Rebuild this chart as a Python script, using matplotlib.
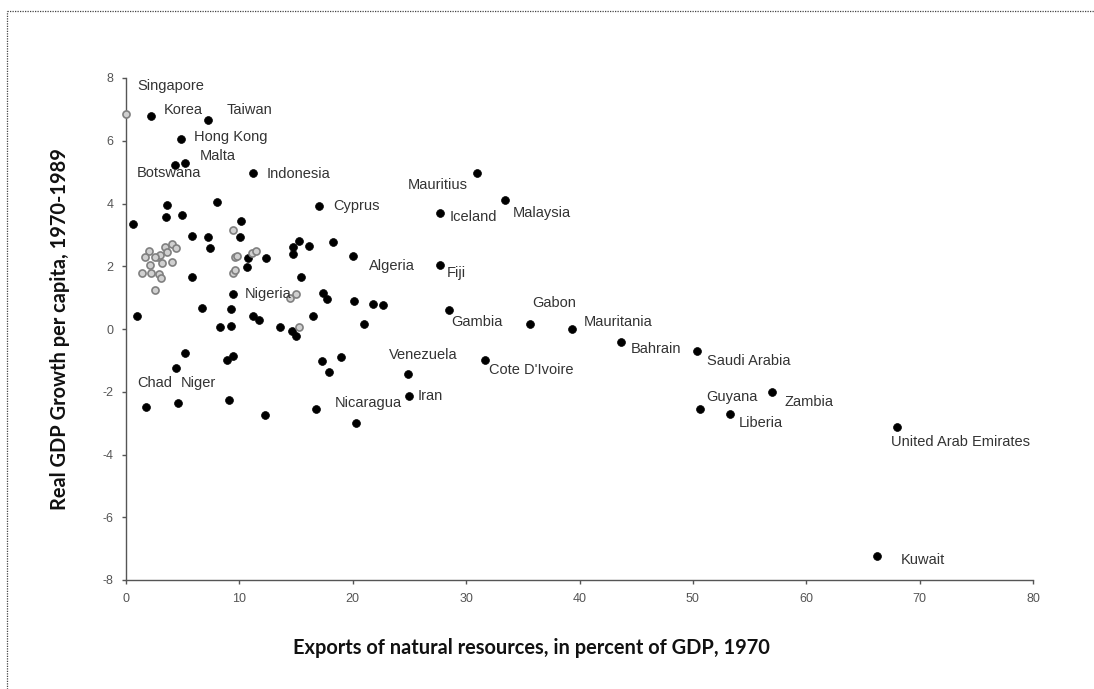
import matplotlib
matplotlib.use("Agg")
import matplotlib.pyplot as plt
from matplotlib.lines import Line2D

# ---------------- data ----------------
labeled_names = ["Singapore", "Korea", "Taiwan", "Hong Kong", "Malta", "Botswana",
                 "Indonesia", "Cyprus", "Mauritius", "Malaysia", "Iceland", "Algeria",
                 "Fiji", "Gambia", "Gabon", "Mauritania", "Bahrain", "Saudi Arabia",
                 "Venezuela", "Cote D'Ivoire", "Iran", "Nicaragua", "Guyana", "Zambia",
                 "Liberia", "United Arab Emirates", "Kuwait", "Chad", "Niger", "Nigeria"]
labeled_x = [0.0, 2.2, 7.2, 4.85, 5.2, 4.3,
             11.2, 17.0, 31.0, 33.4, 27.7, 20.0,
             27.7, 28.5, 35.6, 39.3, 43.7, 50.4,
             24.9, 31.7, 25.0, 16.8, 50.6, 57.0,
             53.3, 68.0, 66.2, 1.8, 4.6, 9.4]
labeled_y = [6.85, 6.8, 6.65, 6.07, 5.3, 5.22,
             4.97, 3.92, 4.97, 4.12, 3.7, 2.33,
             2.03, 0.59, 0.17, 0.0, -0.41, -0.7,
             -1.42, -0.98, -2.12, -2.54, -2.54, -2.0,
             -2.7, -3.12, -7.22, -2.5, -2.37, 1.1]

other_x = [0.6, 3.6, 3.5, 4.9, 8.0, 5.8, 7.2, 7.4, 10.1, 10.05, 5.8, 0.97, 6.7,
           9.3, 8.3, 9.26, 10.8, 10.7, 12.35, 11.2, 11.7, 13.6, 14.7, 14.7, 15.3,
           16.1, 15.4, 14.6, 15.0, 16.5, 18.3, 17.4, 17.7, 8.9, 9.4, 5.2, 4.4,
           9.1, 12.3, 17.3, 17.9, 19.0, 20.1, 21.8, 22.7, 21.0, 20.3]
other_y = [3.35, 3.95, 3.57, 3.62, 4.05, 2.98, 2.93, 2.57, 3.45, 2.92, 1.65, 0.4, 0.68,
           0.65, 0.05, 0.11, 2.27, 1.97, 2.27, 0.4, 0.3, 0.05, 2.62, 2.4, 2.8,
           2.64, 1.65, -0.05, -0.22, 0.4, 2.77, 1.15, 0.95, -0.98, -0.86, -0.76, -1.25,
           -2.27, -2.75, -1.02, -1.37, -0.9, 0.9, 0.8, 0.75, 0.17, -3.0]

gray_x = [2.0, 3.4, 4.06, 4.4, 3.6, 2.8, 3.0, 2.55, 1.7, 3.2, 2.1, 4.1, 1.4, 2.2,
          2.9, 3.1, 2.55, 9.4, 9.6, 9.8, 9.4, 9.6, 11.1, 11.5, 14.5, 15.0, 15.3]
gray_y = [2.5, 2.6, 2.7, 2.57, 2.44, 2.3, 2.37, 2.3, 2.28, 2.09, 2.03, 2.12, 1.77, 1.77,
          1.74, 1.61, 1.23, 3.15, 2.28, 2.32, 1.8, 1.88, 2.42, 2.48, 1.0, 1.1, 0.05]

x_ticks = [0, 10, 20, 30, 40, 50, 60, 70, 80]
y_ticks = [-8, -6, -4, -2, 0, 2, 4, 6, 8]
x_label = "Exports of natural resources, in percent of GDP, 1970"
y_label = "Real GDP Growth per capita, 1970-1989"

# label placement (pixel offsets from the point, horizontal alignment)
label_layout = {
    "Singapore": (11, 28, "left"), "Korea": (13, 6, "left"), "Taiwan": (19, 10, "left"),
    "Hong Kong": (13, 2, "left"), "Malta": (15, 7, "left"), "Botswana": (-38, -8, "left"),
    "Indonesia": (14, -1, "left"), "Cyprus": (15, 0, "left"), "Mauritius": (-10, -12, "right"),
    "Malaysia": (8, -13, "left"), "Iceland": (10, -4, "left"), "Algeria": (16, -10, "left"),
    "Fiji": (7, -8, "left"), "Gambia": (2, -12, "left"), "Gabon": (3, 21, "left"),
    "Mauritania": (12, 7, "left"), "Bahrain": (9, -7, "left"), "Saudi Arabia": (10, -10, "left"),
    "Venezuela": (-19, 19, "left"), "Cote D'Ivoire": (4, -10, "left"), "Iran": (8, 0, "left"),
    "Nicaragua": (18, 6, "left"), "Guyana": (7, 12, "left"), "Zambia": (12, -10, "left"),
    "Liberia": (8, -9, "left"), "United Arab Emirates": (-6, -15, "left"),
    "Kuwait": (24, -4, "left"), "Chad": (-9, 24, "left"), "Niger": (3, 20, "left"),
    "Nigeria": (12, 0, "left"),
}

# ---------------- figure ----------------
W, H = 1094, 689
fig = plt.figure(figsize=(W / 100, H / 100), dpi=100)
fig.patch.set_facecolor("white")

ax = fig.add_axes([126 / W, 1 - 580 / H, (1033 - 126) / W, (580 - 78) / H])
ax.set_xlim(0, 80)
ax.set_ylim(-8, 8)

label_font = ["Liberation Sans", "DejaVu Sans"]

# points
ax.scatter(other_x, other_y, s=32, c="black", edgecolors="black", linewidths=0.5,
           zorder=3, clip_on=False)
is_gray = [n == "Singapore" for n in labeled_names]
bx = [x for x, g in zip(labeled_x, is_gray) if not g]
by = [y for y, g in zip(labeled_y, is_gray) if not g]
ax.scatter(bx, by, s=32, c="black", edgecolors="black", linewidths=0.5,
           zorder=3, clip_on=False)
gx = gray_x + [x for x, g in zip(labeled_x, is_gray) if g]
gy = gray_y + [y for y, g in zip(labeled_y, is_gray) if g]
ax.scatter(gx, gy, s=26, c="#d0d0d0", edgecolors="#808080", linewidths=1.2,
           zorder=3, clip_on=False)

for name, x, y in zip(labeled_names, labeled_x, labeled_y):
    dx, dy, ha = label_layout[name]
    ax.annotate(name, (x, y), xytext=(dx, dy), textcoords="offset pixels",
                ha=ha, va="center", fontsize=10.5, color="#333333",
                family=label_font, annotation_clip=False)

# axes styling
for side in ("top", "right"):
    ax.spines[side].set_visible(False)
for side in ("left", "bottom"):
    ax.spines[side].set_color("#555555")
    ax.spines[side].set_linewidth(1.0)
ax.set_xticks(x_ticks)
ax.set_yticks(y_ticks)
ax.set_xticklabels([str(t) for t in x_ticks])
ax.set_yticklabels([str(t) for t in y_ticks])
ax.tick_params(axis="both", direction="out", length=3, width=1, color="#555555",
               labelsize=9, labelcolor="#555555", pad=6)
for lab in ax.get_xticklabels() + ax.get_yticklabels():
    lab.set_family(label_font)

bold_font = ["Lato", "DejaVu Sans"]
fig.text(531 / W, 1 - 648 / H, x_label, ha="center", va="center",
         fontsize=14.4, fontweight="bold", family=bold_font, color="#111111")
fig.text(60 / W, 1 - 329 / H, y_label, ha="center", va="center", rotation=90,
         fontsize=14.4, fontweight="bold", family=bold_font, color="#111111")

# dotted frame
frame_kw = dict(color="#444444", linewidth=0.9, linestyle=(0, (1, 1)),
                transform=None)
fig.add_artist(Line2D([7, 7], [0, H - 11], **frame_kw))
fig.add_artist(Line2D([7, W], [H - 11, H - 11], **frame_kw))

fig.savefig("out.png", dpi=100, facecolor="white")
